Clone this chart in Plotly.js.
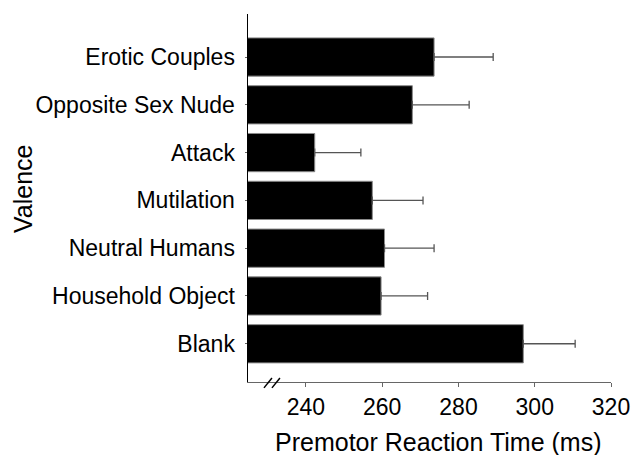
<!DOCTYPE html>
<html>
<head>
<meta charset="utf-8">
<script src="https://cdn.plot.ly/plotly-3.0.1.min.js"></script>
<style>html,body{margin:0;padding:0;background:#fff;}#chart{width:634px;height:455px;}</style>
</head>
<body>
<div id="chart"></div>
<script>
const categories = ["Erotic Couples", "Opposite Sex Nude", "Attack", "Mutilation", "Neutral Humans", "Household Object", "Blank"];
const reactionTimes = [273.6, 267.9, 242.3, 257.4, 260.6, 259.7, 297.0];
const errorValues = [15.5, 14.9, 12.1, 13.3, 13.0, 12.2, 13.6];
const xTickValues = [240, 260, 280, 300, 320];
const xTitle = "Premotor Reaction Time (ms)";
const yTitle = "Valence";

const FONT = "Liberation Sans, Arial, sans-serif";

const trace = {
  type: "bar",
  orientation: "h",
  y: categories,
  x: reactionTimes,
  marker: { color: "#000000", line: { color: "#8a8a8a", width: 1 } },
  error_x: { type: "data", array: errorValues, symmetric: false, arrayminus: errorValues.map(() => 0),
             color: "#555555", thickness: 1.3, width: 4 },
  hoverinfo: "none"
};

const layout = {
  width: 634, height: 455,
  margin: { l: 248, r: 23, t: 14, b: 73 },
  paper_bgcolor: "#ffffff", plot_bgcolor: "#ffffff",
  showlegend: false,
  bargap: 0.2,
  font: { family: FONT, color: "#000000" },
  xaxis: {
    range: [224.8, 320],
    tickvals: xTickValues,
    ticktext: xTickValues.map(String),
    ticks: "outside", ticklen: 4, tickcolor: "#666666", tickwidth: 1,
    showline: true, linecolor: "#666666", linewidth: 1,
    showgrid: false, zeroline: false,
    tickfont: { family: FONT, size: 23, color: "#000000" }
  },
  yaxis: {
    type: "category",
    range: [6.8, -0.9],
    ticks: "outside", ticklen: 2, tickcolor: "#666666",
    ticklabelstandoff: 5,
    showline: true, linecolor: "#000000", linewidth: 1.5,
    showgrid: false, zeroline: false,
    tickfont: { family: FONT, size: 23, color: "#000000" }
  },
  annotations: [
    { text: xTitle, xref: "paper", yref: "paper", x: 0.523, y: -0.163, xanchor: "center", yanchor: "middle",
      showarrow: false, font: { family: FONT, size: 25, color: "#000000" } },
    { text: yTitle, xref: "paper", yref: "paper", x: -0.62, y: 0.527, xanchor: "center", yanchor: "middle",
      textangle: -90, showarrow: false, font: { family: FONT, size: 25, color: "#000000" } }
  ],
  shapes: [
    { type: "line", xref: "paper", yref: "paper", x0: 0.044, y0: -0.016, x1: 0.066, y1: 0.011, line: { color: "#000000", width: 1.5 } },
    { type: "line", xref: "paper", yref: "paper", x0: 0.066, y0: -0.016, x1: 0.088, y1: 0.011, line: { color: "#000000", width: 1.5 } }
  ]
};

Plotly.newPlot("chart", [trace], layout, { displayModeBar: false, staticPlot: true });
</script>
</body>
</html>
